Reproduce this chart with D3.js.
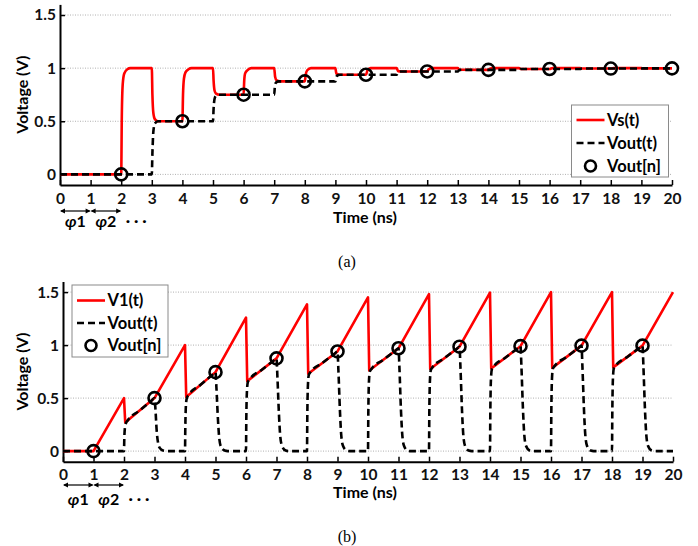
<!DOCTYPE html>
<html>
<head>
<meta charset="utf-8">
<script src="https://cdn.jsdelivr.net/npm/d3@7"></script>
<style>
  html, body { margin: 0; padding: 0; background: #fff; }
  svg { display: block; }
  .tick text, .lbl { font-family: Lato, "Open Sans", sans-serif; font-weight: 700; }
</style>
</head>
<body>
<svg id="chart" width="698" height="546"></svg>
<script>
// ---------------- DATA ----------------
const timeTicks = [0,1,2,3,4,5,6,7,8,9,10,11,12,13,14,15,16,17,18,19,20];
const voltTicks = [0, 0.5, 1, 1.5];
const voltTickLabels = ["0", "0.5", "1", "1.5"];

// Panel (a): Vs(t), Vout(t), Vout[n]
const vsA = [
  [0,0],[2,0],[2.02,0.55],[2.05,0.85],[2.1,0.95],[2.2,0.99],[2.3,1],[3,1],
  [3.02,0.75],[3.05,0.58],[3.1,0.52],[3.2,0.5],[4,0.5],
  [4.02,0.75],[4.05,0.9],[4.1,0.96],[4.2,0.99],[4.3,1],[5,1],
  [5.02,0.88],[5.05,0.79],[5.1,0.76],[5.2,0.75],[6,0.75],
  [6.02,0.88],[6.05,0.95],[6.12,0.98],[6.25,1],[7,1],
  [7.03,0.92],[7.08,0.885],[7.18,0.875],[8,0.875],
  [8.03,0.94],[8.08,0.98],[8.2,1],[9,1],
  [9.03,0.95],[9.1,0.94],[9.15,0.9375],[10,0.9375],
  [10.05,0.98],[10.15,1],[11,1],[11.05,0.972],[11.15,0.969],[12,0.969],
  [12.05,0.99],[12.15,1],[13,1],[13.05,0.985],[14,0.984],
  [14.05,0.995],[14.15,1],[15,1],[15.05,0.992],[16,0.992],
  [16.1,1],[17,1],[17.05,0.996],[18,0.996],[18.1,1],[19,1],[19.05,0.998],[20,0.998]
];
const voutA = [
  [0,0],[3,0],[3.02,0.2],[3.05,0.4],[3.1,0.48],[3.2,0.5],[5,0.5],
  [5.02,0.62],[5.05,0.71],[5.1,0.74],[5.2,0.75],[7,0.75],
  [7.02,0.82],[7.06,0.865],[7.15,0.875],[9,0.875],
  [9.03,0.92],[9.1,0.935],[9.15,0.9375],[11,0.9375],
  [11.05,0.965],[11.12,0.969],[13,0.969],[13.05,0.982],[13.1,0.984],[15,0.984],
  [15.05,0.992],[17,0.992],[17.05,0.996],[19,0.996],[19.05,0.998],[20,0.998]
];
const sampleTimesA = [2,4,6,8,10,12,14,16,18,20];
const sampleValuesA = [0,0.5,0.75,0.875,0.9375,0.969,0.984,0.992,0.996,0.998];

// Panel (b): V1(t), Vout(t), Vout[n]
const v1B = [
  [0,0],[1,0],[2,0.5],[2.04,0.27],[3,0.5],[4,1.0],[4.04,0.51],[5,0.745],
  [6,1.26],[6.04,0.66],[7,0.875],[8,1.385],[8.04,0.73],[9,0.94],
  [10,1.45],[10.04,0.76],[11,0.97],[12,1.48],[12.04,0.775],[13,0.985],
  [14,1.495],[14.04,0.78],[15,0.99],[16,1.5],[16.04,0.785],[17,0.995],
  [18,1.5],[18.04,0.79],[19,0.995],[20,1.5]
];
const voutB = [
  [0,0],[2,0],[2.01,0.12],[2.03,0.22],[2.06,0.26],[2.12,0.289],[2.5,0.38],[2.9,0.476],[3,0.5],
  [3.03,0.4],[3.07,0.2],[3.11,0.09],[3.17,0.03],[3.28,0.005],[3.4,0],[4,0],
  [4.01,0.22],[4.03,0.43],[4.06,0.5],[4.12,0.53],[4.5,0.623],[4.9,0.72],[5,0.745],
  [5.03,0.6],[5.08,0.3],[5.12,0.13],[5.18,0.04],[5.3,0.005],[5.4,0],[6,0],
  [6.01,0.3],[6.03,0.56],[6.06,0.65],[6.12,0.678],[6.5,0.763],[6.9,0.853],[7,0.875],
  [7.03,0.7],[7.08,0.35],[7.12,0.15],[7.18,0.05],[7.3,0.005],[7.4,0],[8,0],
  [8.01,0.33],[8.03,0.62],[8.06,0.72],[8.12,0.7475],[8.5,0.831],[8.9,0.918],[9,0.94],
  [9.03,0.76],[9.08,0.38],[9.12,0.16],[9.18,0.05],[9.3,0.005],[9.4,0],[10,0],
  [10.01,0.34],[10.03,0.65],[10.06,0.75],[10.12,0.7775],[10.5,0.861],[10.9,0.948],[11,0.97],
  [11.03,0.79],[11.08,0.39],[11.12,0.17],[11.18,0.05],[11.3,0.005],[11.4,0],[12,0],
  [12.01,0.35],[12.03,0.66],[12.06,0.765],[12.12,0.7925],[12.5,0.876],[12.9,0.963],[13,0.985],
  [13.03,0.8],[13.08,0.4],[13.12,0.17],[13.18,0.05],[13.3,0.005],[13.4,0],[14,0],
  [14.01,0.35],[14.03,0.67],[14.06,0.77],[14.12,0.7975],[14.5,0.881],[14.9,0.968],[15,0.99],
  [15.03,0.8],[15.08,0.4],[15.12,0.17],[15.18,0.05],[15.3,0.005],[15.4,0],[16,0],
  [16.01,0.35],[16.03,0.67],[16.06,0.775],[16.12,0.8025],[16.5,0.886],[16.9,0.973],[17,0.995],
  [17.03,0.8],[17.08,0.4],[17.12,0.17],[17.18,0.05],[17.3,0.005],[17.4,0],[18,0],
  [18.01,0.35],[18.03,0.68],[18.06,0.78],[18.12,0.807],[18.5,0.888],[18.9,0.974],[19,0.995],
  [19.03,0.8],[19.08,0.4],[19.12,0.17],[19.18,0.05],[19.3,0.005],[19.4,0],[20,0]
];
const sampleTimesB = [1,3,5,7,9,11,13,15,17,19];
const sampleValuesB = [0,0.5,0.745,0.875,0.94,0.97,0.985,0.99,0.995,0.995];

const legendA = ["Vs(t)", "Vout(t)", "Vout[n]"];
const legendB = ["V1(t)", "Vout(t)", "Vout[n]"];
const captions = ["(a)", "(b)"];

// ---------------- DRAW ----------------
const svg = d3.select("#chart");
const RED = "#ff0000";

function panel(o) {
  const g = svg.append("g");
  const x = d3.scaleLinear().domain([0, 20]).range([o.x0, o.x1]);
  const y = d3.scaleLinear().domain([-0.1, 1.6]).range([o.yb, o.yt]);

  // grid
  g.append("g").selectAll("line").data(voltTicks).join("line")
    .attr("x1", x(0)).attr("x2", x(20))
    .attr("y1", d => y(d)).attr("y2", d => y(d))
    .attr("stroke", "#b0b0b0").attr("stroke-width", 1)
    .attr("stroke-dasharray", "1,1.5");

  // axes
  const xa = g.append("g").attr("transform", `translate(0,${y(-0.1)})`)
    .call(d3.axisBottom(x).tickValues(timeTicks).tickFormat(d3.format("d"))
      .tickSize(-5).tickSizeOuter(0).tickPadding(o.xpad));
  const ya = g.append("g").attr("transform", `translate(${x(0)},0)`)
    .call(d3.axisLeft(y).tickValues(voltTicks).tickFormat((d, i) => voltTickLabels[i])
      .tickSize(-5).tickSizeOuter(0).tickPadding(4));
  [xa, ya].forEach(a => {
    a.select(".domain").attr("stroke", "#000").attr("stroke-width", 2);
    a.selectAll(".tick line").attr("stroke", "#000").attr("stroke-width", 1.5);
    a.selectAll(".tick text").attr("font-size", 15.5).attr("fill", "#111");
  });

  // lines
  const line = d3.line().x(d => x(d[0])).y(d => y(d[1]));
  g.append("path").datum(o.red)
    .attr("d", line.curve(o.redCurve)).attr("fill", "none")
    .attr("stroke", RED).attr("stroke-width", 2.6).attr("stroke-linejoin", "round");
  g.append("path").datum(o.black)
    .attr("d", line.curve(d3.curveMonotoneX)).attr("fill", "none")
    .attr("stroke", "#000").attr("stroke-width", 2.6).attr("stroke-dasharray", "7,4");
  g.append("g").selectAll("circle").data(o.st).join("circle")
    .attr("cx", d => x(d)).attr("cy", (d, i) => y(o.sv[i])).attr("r", 6)
    .attr("fill", "none").attr("stroke", "#000").attr("stroke-width", 2.6);

  // axis labels
  g.append("text").attr("class", "lbl").attr("font-size", 16)
    .attr("text-anchor", "middle")
    .attr("transform", `translate(27.5,${(o.yt + o.yb) / 2}) rotate(-90)`)
    .text("Voltage (V)");
  g.append("text").attr("class", "lbl").attr("font-size", 16)
    .attr("text-anchor", "middle").attr("x", 365).attr("y", o.timeY)
    .text("Time (ns)");

  // phase annotations
  const ay = o.arrowY;
  const drawArrow = (a, b) => {
    g.append("line").attr("x1", x(a) + 1).attr("x2", x(b) - 1).attr("y1", ay).attr("y2", ay)
      .attr("stroke", "#000").attr("stroke-width", 1.2);
    [[x(a), 1], [x(b), -1]].forEach(([px, s]) => {
      g.append("path").attr("d", `M${px},${ay}L${px + s * 5},${ay - 2.5}L${px + s * 5},${ay + 2.5}Z`)
        .attr("fill", "#000");
    });
  };
  drawArrow(0, 1); drawArrow(1, 2);
  [["1", 0.5], ["2", 1.5]].forEach(([n, t]) => {
    const tx = g.append("text").attr("class", "lbl").attr("font-size", 16)
      .attr("text-anchor", "middle").attr("x", x(t)).attr("y", o.phiY);
    tx.append("tspan").attr("font-style", "italic").text("φ");
    tx.append("tspan").text(n);
  });
  g.append("text").attr("class", "lbl").attr("font-size", 16)
    .attr("x", x(2.15)).attr("y", o.phiY - 1).text("· · ·");

  // legend
  const L = o.leg;
  g.append("rect").attr("x", L.x).attr("y", L.y).attr("width", L.w).attr("height", L.h)
    .attr("fill", "#fff").attr("stroke", "#8a8a8a").attr("stroke-width", 1);
  o.legText.forEach((t, i) => {
    const ey = L.y + L.first + i * L.step;
    if (i === 0) {
      g.append("line").attr("x1", L.x + 5).attr("x2", L.x + 33).attr("y1", ey).attr("y2", ey)
        .attr("stroke", RED).attr("stroke-width", 2.6);
    } else if (i === 1) {
      g.append("line").attr("x1", L.x + 5).attr("x2", L.x + 33).attr("y1", ey).attr("y2", ey)
        .attr("stroke", "#000").attr("stroke-width", 2.6).attr("stroke-dasharray", "7,4");
    } else {
      g.append("circle").attr("cx", L.x + 19).attr("cy", ey).attr("r", 5.5)
        .attr("fill", "none").attr("stroke", "#000").attr("stroke-width", 2.6);
    }
    g.append("text").attr("class", "lbl").attr("font-size", 16.5)
      .attr("x", L.x + 35.5).attr("y", ey).attr("dy", "0.36em").text(t);
  });

  svg.append("text").attr("x", 347).attr("y", o.capY).attr("text-anchor", "middle")
    .attr("font-family", "'Liberation Serif', serif").attr("font-size", 16)
    .text(o.cap);
}

panel({
  x0: 60, x1: 672, yt: 4.4, yb: 185, xpad: 8,
  red: vsA, redCurve: d3.curveMonotoneX, black: voutA,
  st: sampleTimesA, sv: sampleValuesA,
  timeY: 223, arrowY: 211, phiY: 227,
  leg: { x: 571.5, y: 105, w: 97, h: 72, first: 15, step: 23 },
  legText: legendA, cap: captions[0], capY: 267
});
panel({
  x0: 63, x1: 673, yt: 281.5, yb: 461.7, xpad: 7,
  red: v1B, redCurve: d3.curveLinear, black: voutB,
  st: sampleTimesB, sv: sampleValuesB,
  timeY: 498, arrowY: 485, phiY: 505,
  leg: { x: 72, y: 285, w: 96, h: 72, first: 15.5, step: 22.5 },
  legText: legendB, cap: captions[1], capY: 542
});
</script>
</body>
</html>
